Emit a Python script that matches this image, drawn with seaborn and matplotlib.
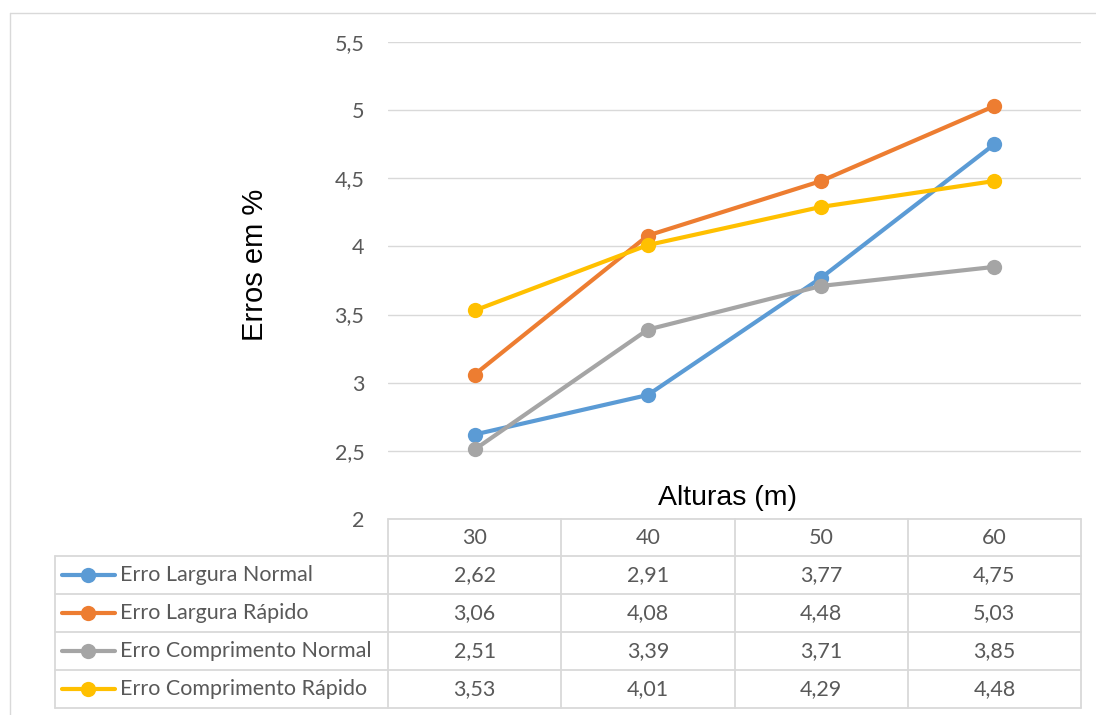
import matplotlib
matplotlib.use("Agg")
import matplotlib.pyplot as plt
import seaborn as sns
import pandas as pd
from matplotlib.lines import Line2D

# ---- data ----
alturas = [30, 40, 50, 60]
series_names = ["Erro Largura Normal", "Erro Largura Rápido",
                "Erro Comprimento Normal", "Erro Comprimento Rápido"]
erro_largura_normal = [2.62, 2.91, 3.77, 4.75]
erro_largura_rapido = [3.06, 4.08, 4.48, 5.03]
erro_comp_normal = [2.51, 3.39, 3.71, 3.85]
erro_comp_rapido = [3.53, 4.01, 4.29, 4.48]
colors = ["#5B9BD5", "#ED7D31", "#A5A5A5", "#FFC000"]
yticks = [2, 2.5, 3, 3.5, 4, 4.5, 5, 5.5]

all_vals = [erro_largura_normal, erro_largura_rapido, erro_comp_normal, erro_comp_rapido]
rows = []
for name, vals in zip(series_names, all_vals):
    for h, v in zip(alturas, vals):
        rows.append({"Altura": h, "Erro": v, "Serie": name})
df = pd.DataFrame(rows)

sns.set_theme(style="white")
plt.rcParams['font.family'] = ['Lato', 'DejaVu Sans']

W, H = 1096, 715
fig = plt.figure(figsize=(W / 100, H / 100), dpi=100)

def fx(px):
    return px / W

def fy(py):
    return 1 - py / H

L, R, T, B = 388, 1081, 42, 519
ax = fig.add_axes([fx(L), fy(B), fx(R) - fx(L), fy(T) - fy(B)])

sns.lineplot(data=df, x="Altura", y="Erro", hue="Serie", style="Serie",
             hue_order=series_names, style_order=series_names,
             palette=colors, markers=["o"] * 4, dashes=False,
             linewidth=3, markersize=11, markeredgewidth=0,
             legend=False, ax=ax, clip_on=False)

FS = 15.5
ax.set_xlim(25, 65)
ax.set_ylim(2, 5.5)
ax.set_yticks(yticks)
ax.set_yticklabels([("%g" % t).replace(".", ",") for t in yticks],
                   color="#595959", fontsize=FS)
ax.tick_params(axis="y", length=0, pad=17)
ax.set_xticks([])
ax.set_xlabel("")
ax.set_ylabel("")
ax.grid(axis="y", color="#D9D9D9", linewidth=1)
ax.set_axisbelow(True)
for s in ax.spines.values():
    s.set_visible(False)

# chart border (top and left only visible)
border_c = "#D9D9D9"
fig.add_artist(Line2D([fx(9.5), fx(1096)], [fy(12.5), fy(12.5)], transform=fig.transFigure,
                      color=border_c, linewidth=1))
fig.add_artist(Line2D([fx(9.5), fx(9.5)], [fy(12.5), fy(715)], transform=fig.transFigure,
                      color=border_c, linewidth=1))

# axis titles
fig.text(fx(255), fy(265), "Erros em %", rotation=90, ha="center", va="center",
         fontsize=21, family="Liberation Sans", color="black")
fig.text(fx(727), fy(498), "Alturas (m)", ha="center", va="center",
         fontsize=20.5, family="Liberation Sans", color="black")

# data table
grid_c = "#D9D9D9"
col_edges = [388, 561.25, 734.5, 907.75, 1081]
row_edges = [519, 556, 594, 632, 670, 708]
left_edge = 55

def hline(y, x0, x1):
    fig.add_artist(Line2D([fx(x0), fx(x1)], [fy(y), fy(y)], transform=fig.transFigure,
                          color=grid_c, linewidth=1.3))

def vline(x, y0, y1):
    fig.add_artist(Line2D([fx(x), fx(x)], [fy(y0), fy(y1)], transform=fig.transFigure,
                          color=grid_c, linewidth=1.3))

hline(row_edges[0], col_edges[0], col_edges[-1])
for y in row_edges[1:]:
    hline(y, left_edge, col_edges[-1])
vline(left_edge, row_edges[1], row_edges[-1])
for x in col_edges:
    vline(x, row_edges[0], row_edges[-1])

# header
for i, h in enumerate(alturas):
    cx = (col_edges[i] + col_edges[i + 1]) / 2
    fig.text(fx(cx), fy((row_edges[0] + row_edges[1]) / 2), str(h),
             ha="center", va="center", fontsize=FS, color="#595959")

for r, (name, vals, c) in enumerate(zip(series_names, all_vals, colors)):
    cy = (row_edges[r + 1] + row_edges[r + 2]) / 2
    fig.add_artist(Line2D([fx(62), fx(115)], [fy(cy), fy(cy)], transform=fig.transFigure,
                          color=c, linewidth=3, solid_capstyle="round"))
    fig.add_artist(Line2D([fx(88)], [fy(cy)], transform=fig.transFigure,
                          color=c, marker="o", markersize=11, markeredgewidth=0))
    fig.text(fx(120), fy(cy), name, ha="left", va="center", fontsize=FS, color="#595959")
    for i, v in enumerate(vals):
        cx = (col_edges[i] + col_edges[i + 1]) / 2
        fig.text(fx(cx), fy(cy), ("%.2f" % v).replace(".", ","),
                 ha="center", va="center", fontsize=FS, color="#595959")

fig.savefig("out.png", dpi=100, facecolor="white")
